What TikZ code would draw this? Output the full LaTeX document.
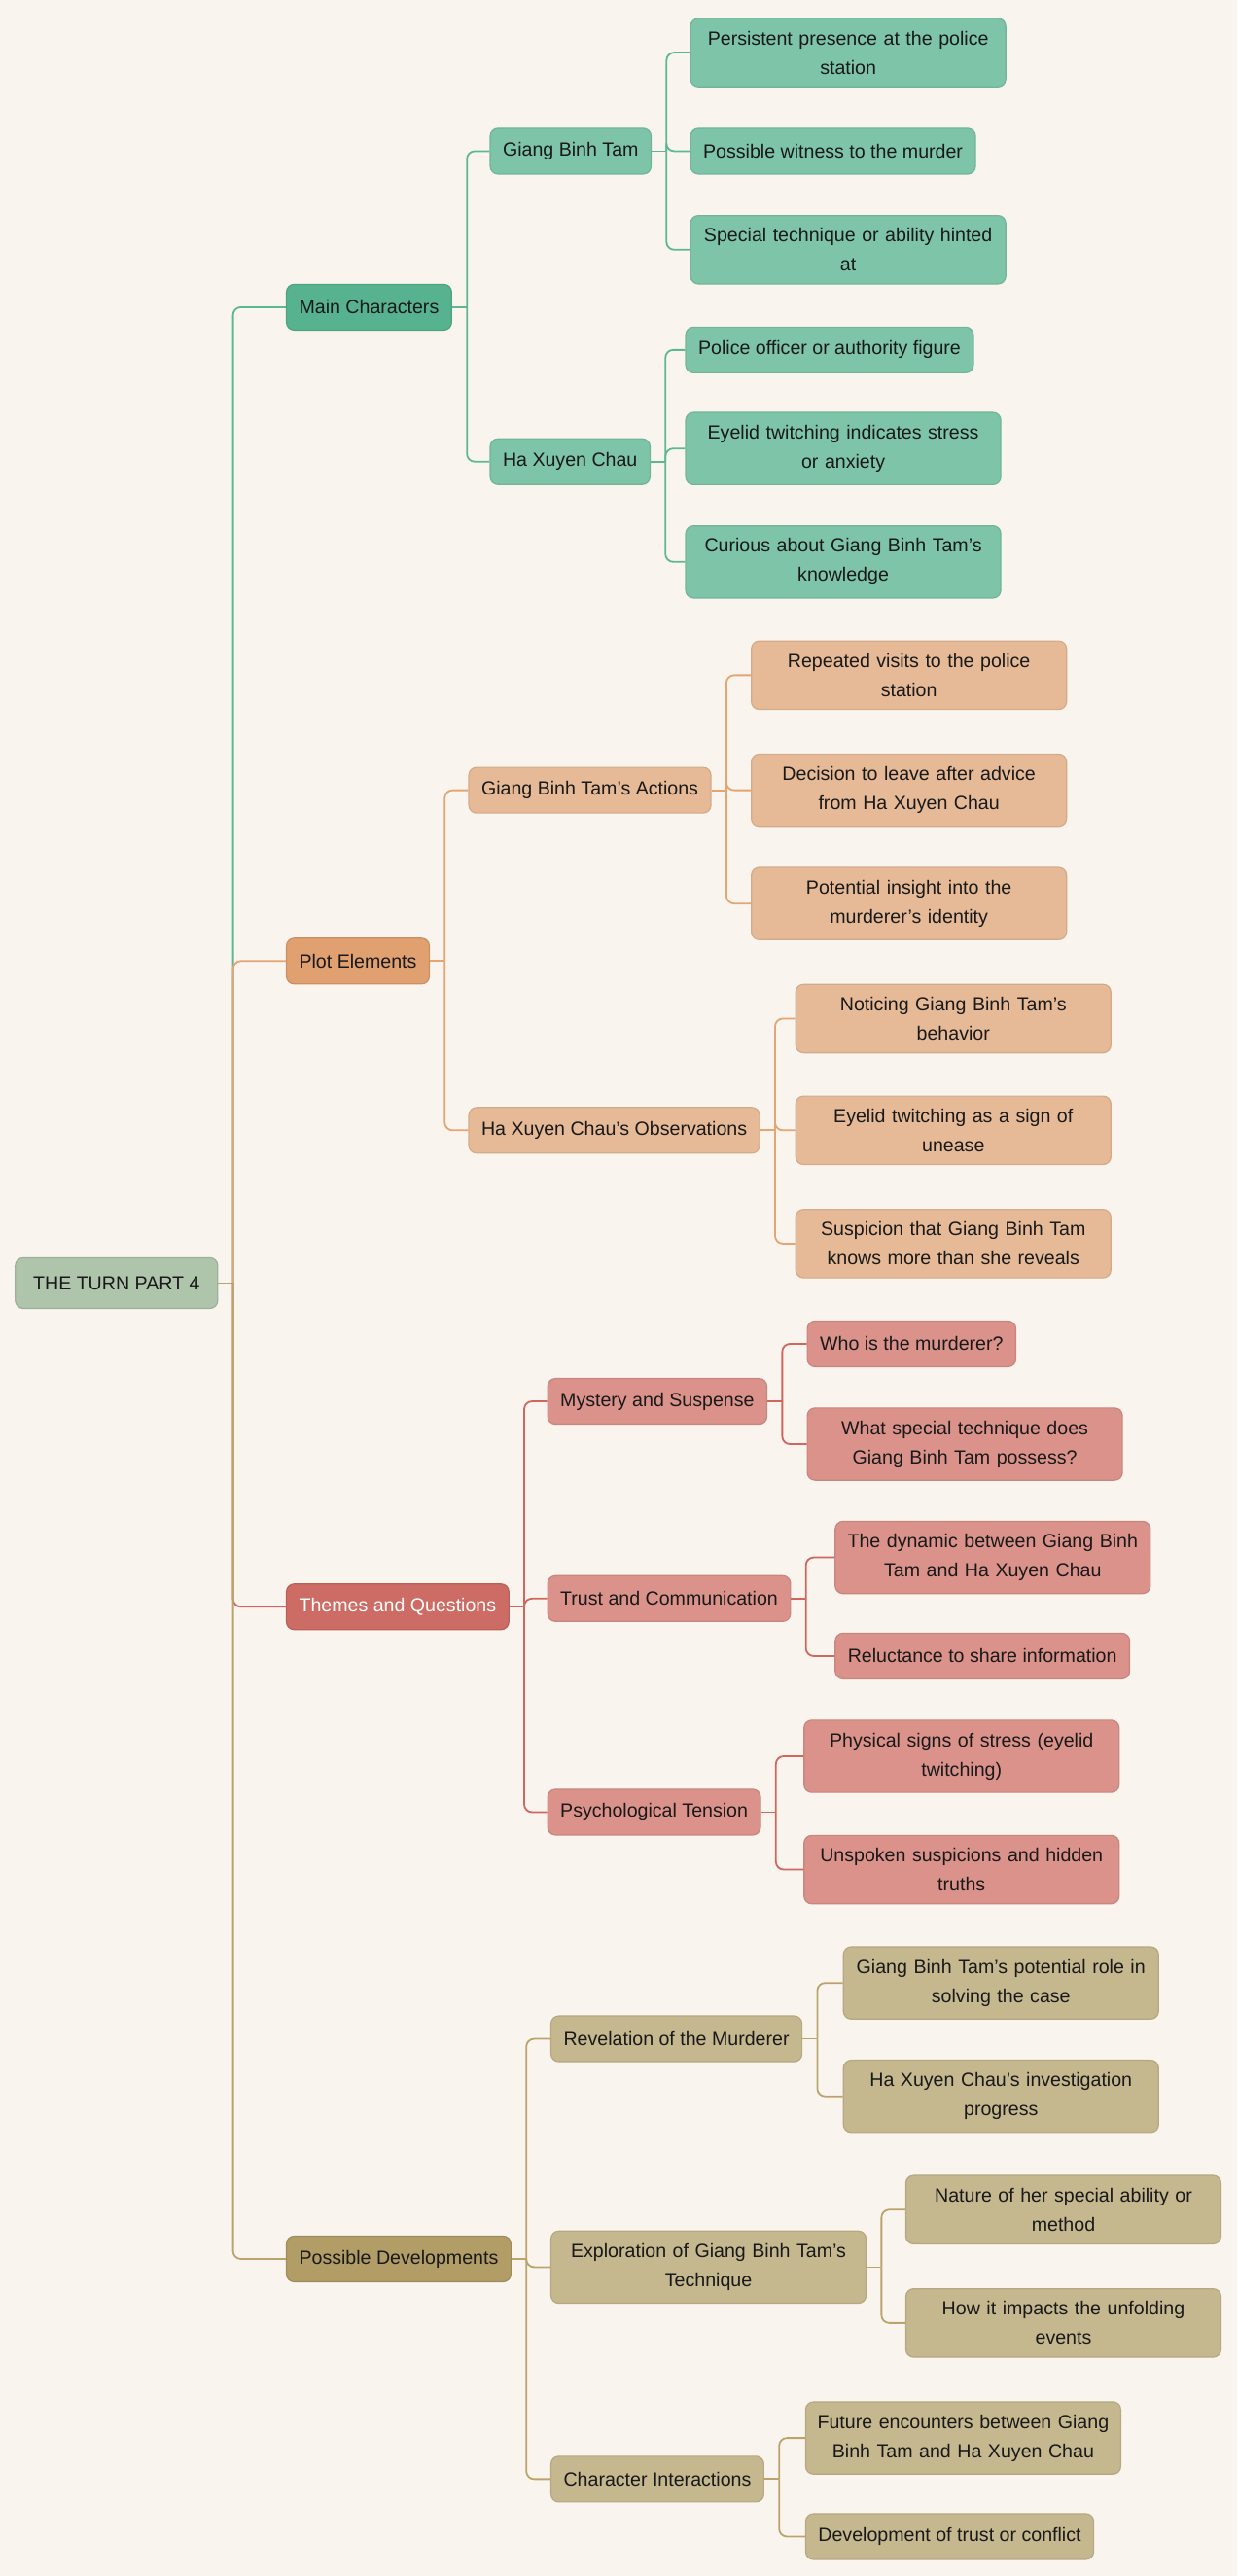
\documentclass[tikz,border=0pt]{standalone}
\usepackage{fontspec}
\setmainfont{Liberation Sans}
\usepackage{tikz}
\usetikzlibrary{positioning}
\usetikzlibrary{calc}
\hyphenpenalty=10000

\definecolor{bgcol}{HTML}{F9F5EE}
\definecolor{rootcol}{HTML}{AEC4AB}
\definecolor{gmaincol}{HTML}{57B38F}
\definecolor{gsubcol}{HTML}{7DC4A8}
\definecolor{glinecol}{HTML}{5DB892}
\definecolor{omaincol}{HTML}{E0A06F}
\definecolor{osubcol}{HTML}{E6BA96}
\definecolor{olinecol}{HTML}{E3A573}
\definecolor{rmaincol}{HTML}{CD6C64}
\definecolor{rsubcol}{HTML}{DA928A}
\definecolor{rlinecol}{HTML}{D0675F}
\definecolor{kmaincol}{HTML}{B19D65}
\definecolor{ksubcol}{HTML}{C5B78E}
\definecolor{klinecol}{HTML}{BBA46C}

\begin{document}
\begin{tikzpicture}[x=0.8447pt, y=-0.8447pt,
  box/.style={rectangle, rounded corners=4pt, anchor=west,
    font=\fontsize{9.8}{15}\selectfont,
    text=black!90, inner xsep=6.5pt, inner ysep=6.5pt, minimum height=23.5pt, line width=0.6pt},
  wide/.style={text width=156pt, inner xsep=3pt, align=center},
  rootbox/.style={box, fill=rootcol, draw=rootcol!90!black, minimum width=104pt, minimum height=26pt},
  gmain/.style={box, fill=gmaincol, draw=gmaincol!90!black},
  gsub/.style={box, fill=gsubcol, draw=gsubcol!92!black},
  omain/.style={box, fill=omaincol, draw=omaincol!90!black},
  osub/.style={box, fill=osubcol, draw=osubcol!92!black},
  rmain/.style={box, fill=rmaincol, draw=rmaincol!90!black, text=white},
  rsub/.style={box, fill=rsubcol, draw=rsubcol!92!black},
  kmain/.style={box, fill=kmaincol, draw=kmaincol!90!black},
  ksub/.style={box, fill=ksubcol, draw=ksubcol!92!black},
  gline/.style={draw=glinecol, line width=0.9pt, rounded corners=4pt},
  oline/.style={draw=olinecol, line width=0.9pt, rounded corners=4pt},
  rline/.style={draw=rlinecol, line width=0.9pt, rounded corners=4pt},
  kline/.style={draw=klinecol, line width=0.9pt, rounded corners=4pt}]

\fill[bgcol] (0,0) rectangle (753,1568);
\useasboundingbox (0,0) rectangle (753,1568);

\node (root) [rootbox] at (9,781) {THE TURN PART 4};

\node (MC) [gmain] at (174,187)  {Main Characters};
\node (PE) [omain] at (174,585)  {Plot Elements};
\node (TQ) [rmain] at (174,978)  {Themes and Questions};
\node (PD) [kmain] at (174,1375) {Possible Developments};

% main characters
\node (GBT) [gsub] at (298,92)  {Giang Binh Tam};
\node (HXC) [gsub] at (298,281) {Ha Xuyen Chau};
\node (GBT1) [gsub, wide] at (420,32)  {Persistent presence at the police\\station};
\node (GBT2) [gsub]       at (420,92)  {Possible witness to the murder};
\node (GBT3) [gsub, wide] at (420,152) {Special technique or ability hinted\\at};
\node (HXC1) [gsub]       at (417,213) {Police officer or authority figure};
\node (HXC2) [gsub, wide] at (417,273) {Eyelid twitching indicates stress\\or anxiety};
\node (HXC3) [gsub, wide] at (417,342) {Curious about Giang Binh Tam's\\knowledge};

% plot elements
\node (GBTA) [osub] at (285,481) {Giang Binh Tam's Actions};
\node (HXCO) [osub] at (285,688) {Ha Xuyen Chau's Observations};
\node (GBTA1) [osub, wide] at (457,411) {Repeated visits to the police\\station};
\node (GBTA2) [osub, wide] at (457,481) {Decision to leave after advice\\from Ha Xuyen Chau};
\node (GBTA3) [osub, wide] at (457,550) {Potential insight into the\\murderer's identity};
\node (HXCO1) [osub, wide] at (484,620) {Noticing Giang Binh Tam's\\behavior};
\node (HXCO2) [osub, wide] at (484,688) {Eyelid twitching as a sign of\\unease};
\node (HXCO3) [osub, wide] at (484,757) {Suspicion that Giang Binh Tam\\knows more than she reveals};

% themes and questions
\node (MS) [rsub] at (333,853)  {Mystery and Suspense};
\node (TC) [rsub] at (333,973)  {Trust and Communication};
\node (PT) [rsub] at (333,1103) {Psychological Tension};
\node (MS1) [rsub]       at (491,818)  {Who is the murderer?};
\node (MS2) [rsub, wide] at (491,879)  {What special technique does\\Giang Binh Tam possess?};
\node (TC1) [rsub, wide] at (508,948)  {The dynamic between Giang Binh\\Tam and Ha Xuyen Chau};
\node (TC2) [rsub]       at (508,1008) {Reluctance to share information};
\node (PT1) [rsub, wide] at (489,1069) {Physical signs of stress (eyelid\\twitching)};
\node (PT2) [rsub, wide] at (489,1138) {Unspoken suspicions and hidden\\truths};

% possible developments
\node (RM) [ksub]       at (335,1241) {Revelation of the Murderer};
\node (EX) [ksub, wide] at (335,1380) {Exploration of Giang Binh Tam's\\Technique};
\node (CI) [ksub]       at (335,1509) {Character Interactions};
\node (RM1) [ksub, wide] at (513,1207) {Giang Binh Tam's potential role in\\solving the case};
\node (RM2) [ksub, wide] at (513,1276) {Ha Xuyen Chau's investigation\\progress};
\node (EX1) [ksub, wide] at (551,1345) {Nature of her special ability or\\method};
\node (EX2) [ksub, wide] at (551,1414) {How it impacts the unfolding\\events};
\node (CI1) [ksub, wide] at (490,1484) {Future encounters between Giang\\Binh Tam and Ha Xuyen Chau};
\node (CI2) [ksub]       at (490,1544) {Development of trust or conflict};

% stubs to the branch lines
\draw[kline] (root.east) -- ++(9,0) coordinate (rootb);
\draw[gline] (MC.east) -- ++(9,0) coordinate (MCb);
\draw[gline] (GBT.east) -- ++(9,0) coordinate (GBTb);
\draw[gline] (HXC.east) -- ++(9,0) coordinate (HXCb);
\draw[oline] (PE.east) -- ++(9,0) coordinate (PEb);
\draw[oline] (GBTA.east) -- ++(9,0) coordinate (GBTAb);
\draw[oline] (HXCO.east) -- ++(9,0) coordinate (HXCOb);
\draw[rline] (TQ.east) -- ++(9,0) coordinate (TQb);
\draw[rline] (MS.east) -- ++(9,0) coordinate (MSb);
\draw[rline] (TC.east) -- ++(9,0) coordinate (TCb);
\draw[rline] (PT.east) -- ++(9,0) coordinate (PTb);
\draw[kline] (PD.east) -- ++(9,0) coordinate (PDb);
\draw[kline] (RM.east) -- ++(9,0) coordinate (RMb);
\draw[kline] (EX.east) -- ++(9,0) coordinate (EXb);
\draw[kline] (CI.east) -- ++(9,0) coordinate (CIb);

\draw[gline] (rootb) |- (MC.west);
\draw[oline] (rootb) |- (PE.west);
\draw[rline] (rootb) |- (TQ.west);
\draw[kline] (rootb) |- (PD.west);

\draw[gline] (MCb) |- (GBT.west);
\draw[gline] (MCb) |- (HXC.west);
\draw[gline] (GBTb) |- (GBT1.west);
\draw[gline] (GBTb) |- (GBT2.west);
\draw[gline] (GBTb) |- (GBT3.west);
\draw[gline] (HXCb) |- (HXC1.west);
\draw[gline] (HXCb) |- (HXC2.west);
\draw[gline] (HXCb) |- (HXC3.west);

\draw[oline] (PEb) |- (GBTA.west);
\draw[oline] (PEb) |- (HXCO.west);
\draw[oline] (GBTAb) |- (GBTA1.west);
\draw[oline] (GBTAb) |- (GBTA2.west);
\draw[oline] (GBTAb) |- (GBTA3.west);
\draw[oline] (HXCOb) |- (HXCO1.west);
\draw[oline] (HXCOb) |- (HXCO2.west);
\draw[oline] (HXCOb) |- (HXCO3.west);

\draw[rline] (TQb) |- (MS.west);
\draw[rline] (TQb) |- (TC.west);
\draw[rline] (TQb) |- (PT.west);
\draw[rline] (MSb) |- (MS1.west);
\draw[rline] (MSb) |- (MS2.west);
\draw[rline] (TCb) |- (TC1.west);
\draw[rline] (TCb) |- (TC2.west);
\draw[rline] (PTb) |- (PT1.west);
\draw[rline] (PTb) |- (PT2.west);

\draw[kline] (PDb) |- (RM.west);
\draw[kline] (PDb) |- (EX.west);
\draw[kline] (PDb) |- (CI.west);
\draw[kline] (RMb) |- (RM1.west);
\draw[kline] (RMb) |- (RM2.west);
\draw[kline] (EXb) |- (EX1.west);
\draw[kline] (EXb) |- (EX2.west);
\draw[kline] (CIb) |- (CI1.west);
\draw[kline] (CIb) |- (CI2.west);
\end{tikzpicture}
\end{document}
